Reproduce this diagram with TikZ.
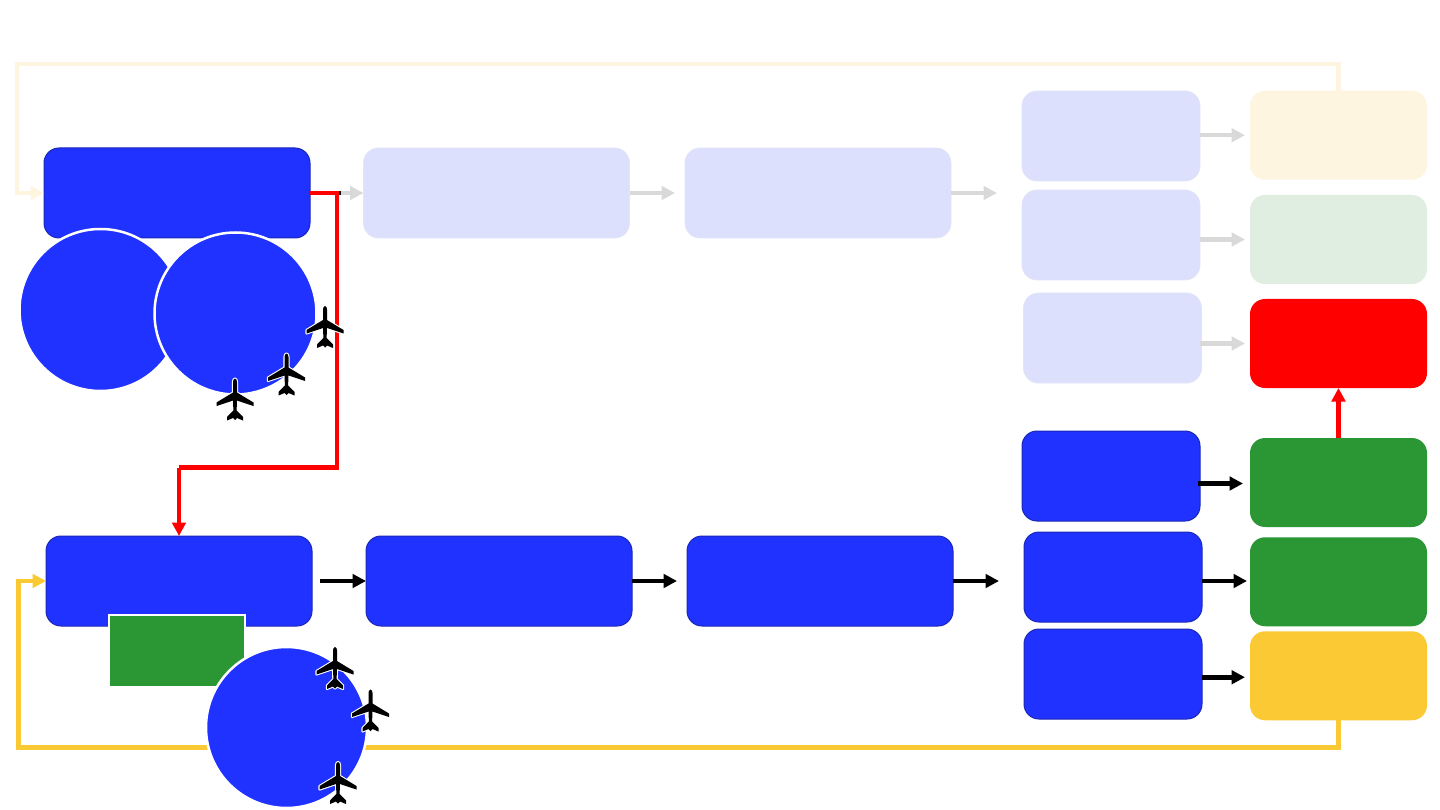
\documentclass[tikz,border=0pt]{standalone}
\usetikzlibrary{arrows.meta}
\definecolor{mblue}{HTML}{1F32FF}
\definecolor{mbluedge}{HTML}{1A28B8}
\definecolor{fblue}{HTML}{DDE0FC}
\definecolor{fbluedge}{HTML}{E2E4F8}
\definecolor{mgreen}{HTML}{2A9734}
\definecolor{fgreen}{HTML}{DFEEE0}
\definecolor{myellow}{HTML}{FBC933}
\definecolor{fyellow}{HTML}{FEF5E0}
\definecolor{fgray}{HTML}{D9D9D9}
\newcommand{\planeshape}{
  (0,-21.5) .. controls (1.3,-21.5) and (2,-19.5) .. (2,-18) -- (2,-7.5) -- (18.5,2.5) -- (18.5,6) -- (2,0.5)
  -- (1.6,10.5) -- (8,17) -- (8,20.5) -- (2,18) -- (0,20) -- (-2,18) -- (-8,20.5) -- (-8,17) -- (-1.6,10.5)
  -- (-2,0.5) -- (-18.5,6) -- (-18.5,2.5) -- (-2,-7.5) -- (-2,-18) .. controls (-2,-19.5) and (-1.3,-21.5) .. (0,-21.5) -- cycle}
\tikzset{
  box/.style={rectangle,rounded corners=15pt,inner sep=0pt,outer sep=0pt,minimum width=#1},
  wide/.style={box=266pt,minimum height=90pt},
  narrow/.style={box=178pt,minimum height=90pt},
  res/.style={box=177pt,minimum height=89pt},
  activebox/.style={fill=mblue,draw=mbluedge,line width=1pt},
  fadedbox/.style={fill=fblue,draw=fbluedge,line width=0.8pt},
  disc/.style={circle,fill=mblue,draw=white,line width=2.5pt,inner sep=0pt,outer sep=0pt,minimum size=#1},
  conn/.style={line width=4.5pt,-{Triangle[length=13.5pt,width=13.5pt]},line join=miter},
  plain/.style={line width=4.5pt,line join=miter},
  planeicon/.pic={
    \draw[white,line width=2.2pt,line join=round,fill=white] \planeshape;
    \fill[black] \planeshape;
  }
}
\begin{document}
\begin{tikzpicture}[x=1pt,y=-1pt]
\useasboundingbox (0,0) rectangle (1440,810);
% boxes
\node[wide,activebox] (A) at (177,193) {};
\node[wide,fadedbox] (B) at (496.5,193) {};
\node[wide,fadedbox] (C) at (818,193) {};
\node[narrow,fadedbox] (D1) at (1111,136) {};
\node[narrow,fadedbox] (D2) at (1111,235) {};
\node[narrow,fadedbox] (D3) at (1112.5,338) {};
\node[res,fill=fyellow] (E1) at (1338.5,135.25) {};
\node[res,fill=fgreen] (E2) at (1338.5,239.5) {};
\node[res,fill=red] (E3) at (1338.5,343.5) {};
\node[wide,activebox] (F) at (179,581) {};
\node[wide,activebox] (G) at (499,581) {};
\node[wide,activebox] (H) at (820,581) {};
\node[narrow,activebox] (J1) at (1111,476) {};
\node[narrow,activebox] (J2) at (1113,577) {};
\node[narrow,activebox] (J3) at (1113,674) {};
\node[res,fill=mgreen] (K1) at (1338.5,482.5) {};
\node[res,fill=mgreen] (K2) at (1338.5,581.75) {};
\node[res,fill=myellow] (K3) at (1338.5,675.75) {};
% free ends and bends
\coordinate (Cend) at (997,193);
\coordinate (Hend) at (999,581);
\coordinate (creamA) at (1338.5,64);
\coordinate (creamB) at (17,64);
\coordinate (creamC) at (17,193);
\coordinate (redA) at (337,193);
\coordinate (redB) at (337,467.5);
\coordinate (yelA) at (1338.5,747.5);
\coordinate (yelB) at (18.5,747.5);
\coordinate (yelC) at (18.5,581);
\coordinate (tickA) at (339,193);
\coordinate (tickB) at (341,193);
% grey connectors
\draw[conn,fgray] (A.east) -- (B.west);
\draw[conn,fgray,shorten >=10pt] (B.east) -- (C.west);
\draw[conn,fgray] (C.east) -- (Cend);
\draw[conn,fgray,shorten >=5pt] (E1.west -| D1.east) -- (E1.west);
\draw[conn,fgray,shorten >=5pt] (E2.west -| D2.east) -- (E2.west);
\draw[conn,fgray,shorten >=5pt] ([xshift=-2pt]E3.west -| D3.east) -- (E3.west);
% cream feedback
\draw[conn,fyellow] (E1.north) -- (creamA) -- (creamB) -- (creamC) -- (creamC -| A.west);
% red
\draw[plain,red] (A.east) -- (redA) -- (redB) -- (redB -| F.north);
\draw[conn,red] (redB -| F.north) -- (F.north);
\draw[line width=4.5pt,black] (tickA) -- (tickB);
\draw[conn,red] (K1.north) -- (E3.south);
% black connectors
\draw[conn,black,shorten <=8pt] (F.east) -- (G.west);
\draw[conn,black,shorten >=10pt] (G.east) -- (H.west);
\draw[conn,black] (H.east) -- (Hend);
\draw[conn,black,shorten >=7pt,shorten <=-2pt] ([yshift=-1pt]K1.west -| J1.east) -- ([yshift=-1pt]K1.west);
\draw[conn,black,shorten >=3pt] ([yshift=0.75pt]K2.west -| J2.east) -- ([yshift=0.75pt]K2.west);
\draw[conn,black,shorten >=5pt] ([yshift=-1.5pt]K3.west -| J3.east) -- ([yshift=-1.5pt]K3.west);
% yellow feedback
\draw[conn,myellow] (K3.south) -- (yelA) -- (yelB) -- (yelC) -- (F.west);
% discs and rectangle
\node[disc=162pt] (c1) at (100.5,310) {};
\node[disc=162pt] (c2) at (235.5,313.5) {};
\node[rectangle,fill=mgreen,draw=white,line width=2pt,minimum width=136pt,minimum height=72pt,inner sep=0pt] (g1) at (177,651) {};
\node[disc=161pt] (c3) at (286.5,727.5) {};
% aircraft
\pic at (325,327.5) {planeicon};
\pic at (286.5,375) {planeicon};
\pic at (235,400) {planeicon};
\pic at (335,668.5) {planeicon};
\pic at (370.5,711) {planeicon};
\pic at (338,783.5) {planeicon};
\end{tikzpicture}
\end{document}
